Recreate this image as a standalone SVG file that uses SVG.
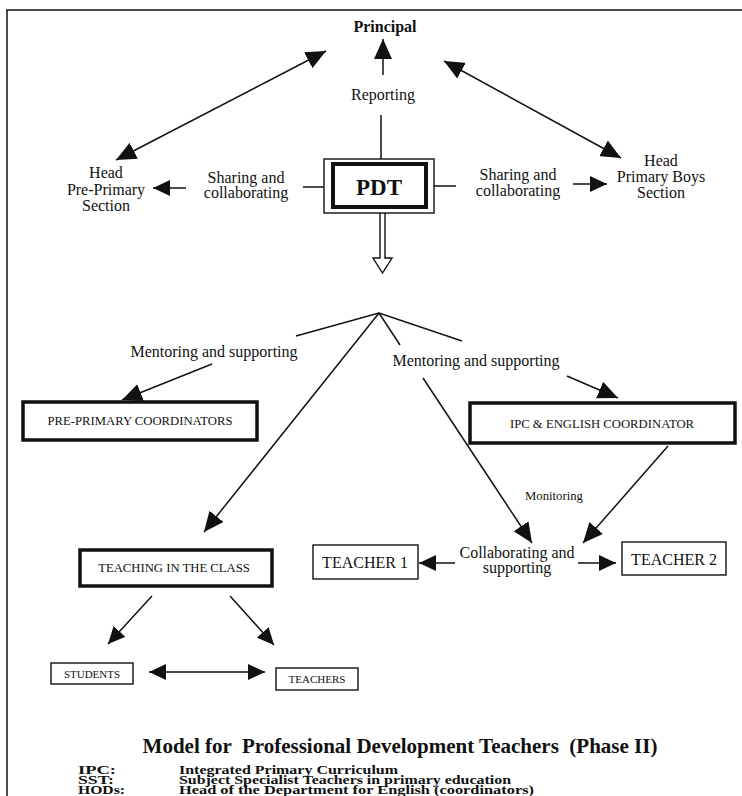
<svg xmlns="http://www.w3.org/2000/svg" width="742" height="796" viewBox="0 0 742 796">
  <style>
    text { font-family: "Liberation Serif", "Times New Roman", serif; fill: #111; }
    .lbl { font-size: 16px; text-anchor: middle; }
    .small { font-size: 12.7px; text-anchor: middle; }
    .tiny { font-size: 11px; text-anchor: middle; }
    .bold { font-weight: bold; }
    .ln { stroke: #111; stroke-width: 1.5; fill: none; }
    .thick { stroke: #111; stroke-width: 3.5; fill: #fff; }
    .thin { stroke: #111; stroke-width: 1.4; fill: #fff; }
    .arr { stroke: #111; stroke-width: 1.5; fill: none; marker-end: url(#head); }
    .arr2 { stroke: #111; stroke-width: 1.5; fill: none; marker-start: url(#head); marker-end: url(#head); }
    .arrS { stroke: #111; stroke-width: 1.5; fill: none; marker-end: url(#headS); }
    .arrS2 { stroke: #111; stroke-width: 1.5; fill: none; marker-start: url(#headS); marker-end: url(#headS); }
    .legend { font-size: 12.5px; font-weight: bold; }
  </style>
  <defs>
    <marker id="head" markerUnits="userSpaceOnUse" markerWidth="20" markerHeight="18" refX="20" refY="9" orient="auto-start-reverse" viewBox="0 0 20 18">
      <path d="M0,0 L20,9 L0,18 z" fill="#111"/>
    </marker>
    <marker id="headS" markerUnits="userSpaceOnUse" markerWidth="17" markerHeight="16" refX="17" refY="8" orient="auto-start-reverse" viewBox="0 0 17 16">
      <path d="M0,0 L17,8 L0,16 z" fill="#111"/>
    </marker>
  </defs>

  <rect width="742" height="796" fill="#fff"/>
  <!-- page frame -->
  <path class="ln" d="M7,796 V10 H742"/>

  <!-- connectors -->
  <g id="connectors">
    <line class="arr" x1="383" y1="75" x2="383" y2="39"/>
    <line class="ln" x1="381" y1="115" x2="381" y2="159"/>
    <line class="arr2" x1="116" y1="160" x2="326" y2="51"/>
    <line class="arr2" x1="621" y1="158" x2="444" y2="61"/>
    <line class="ln" x1="303" y1="187" x2="324" y2="187"/>
    <line class="arrS" x1="186" y1="188" x2="153" y2="188"/>
    <line class="ln" x1="434" y1="186" x2="456" y2="186"/>
    <line class="arrS" x1="573" y1="184" x2="607" y2="184"/>
    <!-- hollow arrow out of PDT -->
    <path d="M380,213 V258 H373 L382.5,273 L392,258 H385 V213" fill="#fff" stroke="#111" stroke-width="1.4"/>
    <!-- fan of mentoring lines -->
    <polyline class="ln" points="296,336 379,313 462,341"/>
    <line class="ln" x1="379" y1="313" x2="400" y2="345"/>
    <line class="arr" x1="423" y1="378" x2="532" y2="543"/>
    <line class="arr" x1="379" y1="313" x2="204" y2="532"/>
    <line class="arr" x1="212" y1="364" x2="122" y2="400"/>
    <line class="arr" x1="567" y1="376" x2="618" y2="398"/>
    <line class="arr" x1="668" y1="446" x2="583" y2="543"/>
    <line class="arrS" x1="455" y1="563" x2="419" y2="563"/>
    <line class="arrS" x1="578" y1="563" x2="616" y2="563"/>
    <line class="arrS" x1="152" y1="596" x2="108" y2="644"/>
    <line class="arrS" x1="230" y1="596" x2="274" y2="645"/>
    <line class="arrS2" x1="149" y1="672" x2="265" y2="672"/>
  </g>

  <!-- labels on connectors -->
  <g id="labels">
    <text class="lbl" x="383" y="100">Reporting</text>
    <text class="lbl" x="246" y="183">Sharing and</text>
    <text class="lbl" x="246" y="198">collaborating</text>
    <text class="lbl" x="518" y="180">Sharing and</text>
    <text class="lbl" x="518" y="196">collaborating</text>
    <text class="lbl" x="214" y="357">Mentoring and supporting</text>
    <text class="lbl" x="476" y="366">Mentoring and supporting</text>
    <text class="small" x="554" y="500">Monitoring</text>
    <text class="lbl" x="517" y="558">Collaborating and</text>
    <text class="lbl" x="517" y="573">supporting</text>
  </g>

  <g id="principal">
    <text class="lbl bold" x="385" y="32">Principal</text>
  </g>

  <g id="head-pre-primary">
    <text class="lbl" x="106" y="178">Head</text>
    <text class="lbl" x="106" y="195">Pre-Primary</text>
    <text class="lbl" x="106" y="211">Section</text>
  </g>

  <g id="head-primary-boys">
    <text class="lbl" x="661" y="166">Head</text>
    <text class="lbl" x="661" y="182">Primary Boys</text>
    <text class="lbl" x="661" y="198">Section</text>
  </g>

  <g id="pdt">
    <rect class="thin" x="324" y="159" width="110" height="54"/>
    <rect x="333" y="164" width="93" height="43" fill="#fff" stroke="#111" stroke-width="4"/>
    <text class="bold" x="379" y="195" font-size="23" text-anchor="middle">PDT</text>
  </g>

  <g id="pre-primary-coordinators">
    <rect class="thick" x="23" y="402" width="234" height="38"/>
    <text class="small" x="140" y="425">PRE-PRIMARY COORDINATORS</text>
  </g>

  <g id="ipc-english-coordinator">
    <rect class="thick" x="470" y="403" width="265" height="40"/>
    <text class="small" x="602" y="428">IPC &amp; ENGLISH COORDINATOR</text>
  </g>

  <g id="teaching-in-class">
    <rect class="thick" x="80" y="550" width="192" height="36"/>
    <text class="small" x="174" y="572">TEACHING IN THE CLASS</text>
  </g>

  <g id="teacher-1">
    <rect class="thin" x="313" y="545" width="105" height="34"/>
    <text class="lbl" x="365" y="568">TEACHER 1</text>
  </g>

  <g id="teacher-2">
    <rect class="thin" x="622" y="542" width="104" height="33"/>
    <text class="lbl" x="674" y="565">TEACHER 2</text>
  </g>

  <g id="students">
    <rect class="thin" x="51" y="663" width="82" height="21" stroke-width="1.2"/>
    <text class="tiny" x="92" y="678">STUDENTS</text>
  </g>

  <g id="teachers">
    <rect class="thin" x="276" y="668" width="82" height="22" stroke-width="1.2"/>
    <text class="tiny" x="317" y="683">TEACHERS</text>
  </g>

  <!-- caption and abbreviations -->
  <g id="caption">
    <text class="bold" x="400" y="753" font-size="21" text-anchor="middle" xml:space="preserve">Model for  Professional Development Teachers  (Phase II)</text>
    <text class="legend" x="78" y="773.5" textLength="38" lengthAdjust="spacingAndGlyphs">IPC:</text>
    <text class="legend" x="179" y="773.5" textLength="219" lengthAdjust="spacingAndGlyphs">Integrated Primary Curriculum</text>
    <text class="legend" x="78" y="783.5" textLength="36" lengthAdjust="spacingAndGlyphs">SST:</text>
    <text class="legend" x="179" y="783.5" textLength="332" lengthAdjust="spacingAndGlyphs">Subject Specialist Teachers in primary education</text>
    <text class="legend" x="78" y="793.5" textLength="47" lengthAdjust="spacingAndGlyphs">HODs:</text>
    <text class="legend" x="179" y="793.5" textLength="355" lengthAdjust="spacingAndGlyphs">Head of the Department for English (coordinators)</text>
  </g>
</svg>
